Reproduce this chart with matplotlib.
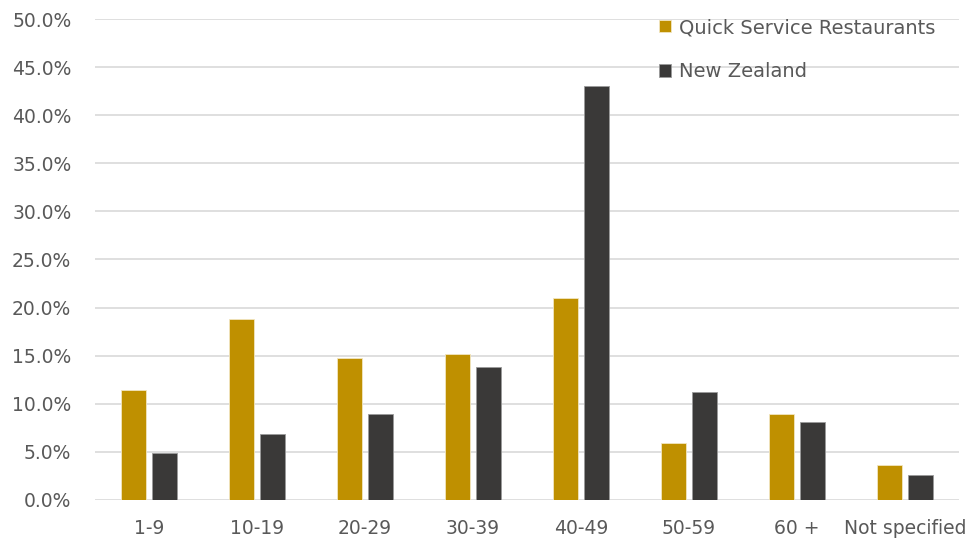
import numpy as np
import matplotlib
matplotlib.use("Agg")
import matplotlib.pyplot as plt
from matplotlib.ticker import PercentFormatter

plt.rcParams['font.family'] = ['DejaVu Sans']

# age groups and share of workers (%)
age_groups = ['1-9', '10-19', '20-29', '30-39', '40-49', '50-59', '60 +', 'Not specified']
qsr_share = [11.4, 18.8, 14.8, 15.2, 21.0, 5.9, 8.9, 3.6]
nz_share = [4.9, 6.9, 8.9, 13.8, 43.0, 11.2, 8.1, 2.6]
series_names = ['Quick Service Restaurants', 'New Zealand']

gold = '#BF9000'
dark = '#3A3938'
text_col = '#595959'

fig = plt.figure(figsize=(9.73, 5.4), dpi=100)
ax = fig.add_axes([0.0976, 0.0741, 0.888, 0.8907])

x = np.arange(len(age_groups))
w = 0.23
off = 0.143
ax.bar(x - off, qsr_share, w, color=gold, edgecolor='#F2E6C0', linewidth=0.6,
       label=series_names[0], zorder=3)
ax.bar(x + off, nz_share, w, color=dark, edgecolor='#9A9A9A', linewidth=0.6,
       label=series_names[1], zorder=3)

ax.set_xlim(-0.5, len(age_groups) - 0.5)
ax.set_ylim(0, 50)
ax.set_yticks(np.arange(0, 50.1, 5))
ax.yaxis.set_major_formatter(PercentFormatter(decimals=1))
ax.grid(axis='y', color='#D9D9D9', linewidth=1.2, zorder=0)
ax.set_xticks(x)
ax.set_xticklabels(age_groups)
ax.tick_params(axis='both', length=0, labelsize=13.5, colors=text_col)
ax.tick_params(axis='x', pad=14)
ax.tick_params(axis='y', pad=17)
for s in ax.spines.values():
    s.set_visible(False)

ax.legend(loc='upper left', bbox_to_anchor=(0.642, 1.022), frameon=False,
          fontsize=14, labelcolor=text_col, handlelength=0.6, handleheight=0.6,
          handletextpad=0.4, labelspacing=1.3, borderaxespad=0.1)

fig.savefig('out.png', dpi=100)
